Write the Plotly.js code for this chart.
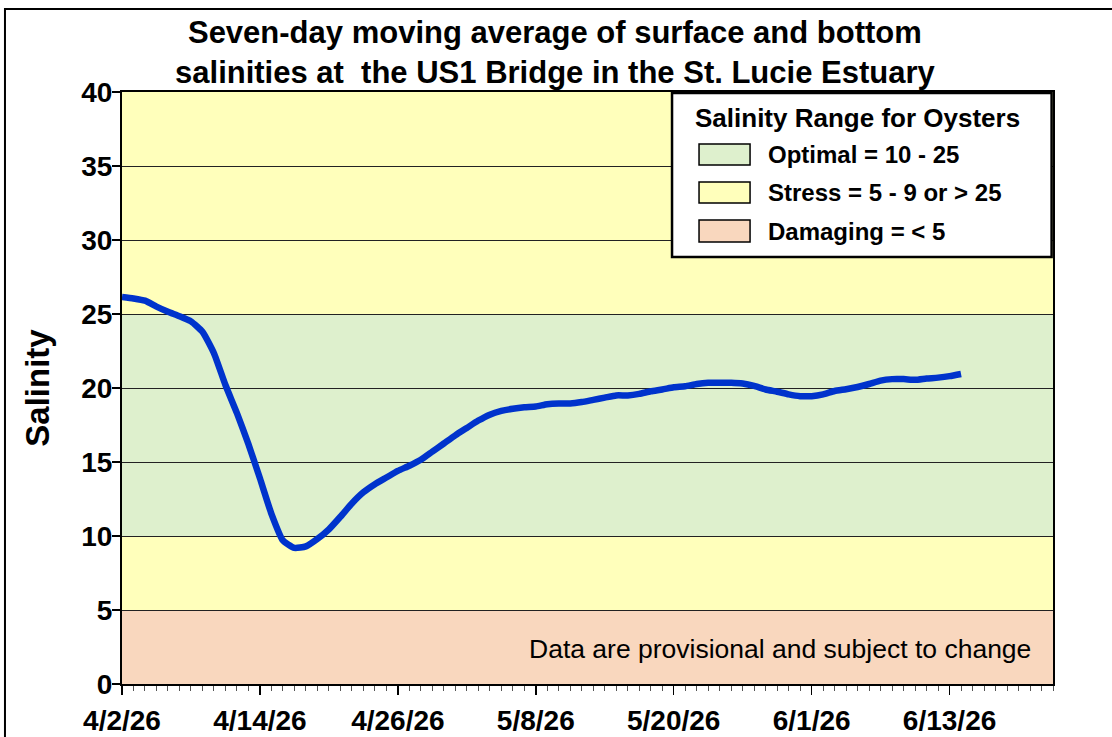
<!DOCTYPE html>
<html>
<head>
<meta charset="utf-8">
<script src="https://cdn.plot.ly/plotly-3.0.1.min.js"></script>
<style>
  html, body { margin: 0; padding: 0; background: #ffffff; }
  #chart { width: 1112px; height: 737px; }
</style>
</head>
<body>
<div id="chart"></div>
<script>
// ---- Data ----
var startDate = '2026-04-02';
var salinity = [
  26.15, 26.05, 25.9, 25.5, 25.15, 24.85, 24.5, 23.8, 22.35, 20.2,
  18.3, 16.2, 13.9, 11.5, 9.7, 9.2, 9.3, 9.8, 10.45, 11.3,
  12.2, 12.95, 13.5, 13.95, 14.4, 14.75, 15.15, 15.7, 16.25, 16.8,
  17.3, 17.8, 18.2, 18.45, 18.6, 18.7, 18.75, 18.9, 18.95, 18.95,
  19.05, 19.2, 19.35, 19.5, 19.5, 19.6, 19.78, 19.9, 20.05, 20.12,
  20.27, 20.35, 20.35, 20.35, 20.3, 20.14, 19.9, 19.75, 19.57, 19.45,
  19.45, 19.57, 19.8, 19.92, 20.07, 20.27, 20.5, 20.6, 20.6, 20.55,
  20.64, 20.7, 20.8, 20.95
];
var xRange = ['2026-04-02', '2026-06-22'];
var yRange = [0, 40];
var yTicks = [0, 5, 10, 15, 20, 25, 30, 35, 40];

// salinity bands for oysters
var bandNames  = ['Damaging = < 5', 'Stress = 5 - 9 or > 25', 'Optimal = 10 - 25', 'Stress = 5 - 9 or > 25'];
var bandLow    = [0, 5, 10, 25];
var bandHigh   = [5, 10, 25, 40];
var bandColors = ['#F9D7BE', '#FFFFBB', '#DEF0CD', '#FFFFBB'];

var legendLabels = ['Optimal = 10 - 25', 'Stress = 5 - 9 or > 25', 'Damaging = < 5'];
var legendColors = ['#DEF0CD', '#FFFFBB', '#F9D7BE'];

var titleText = 'Seven-day moving average of surface and bottom<br>salinities at  the US1 Bridge in the St. Lucie Estuary';
var yTitle = 'Salinity';
var legendTitle = 'Salinity Range for Oysters';
var noteText = 'Data are provisional and subject to change';

// ---- Build ----
function addDays(s, n) {
  var d = new Date(s + 'T00:00:00Z');
  d.setUTCDate(d.getUTCDate() + n);
  return d.toISOString().slice(0, 10);
}
var dates = salinity.map(function (v, i) { return addDays(startDate, i); });

var FONT = 'Liberation Sans, Arial, Helvetica, sans-serif';

var shapes = [];
for (var i = 0; i < bandLow.length; i++) {
  shapes.push({
    type: 'rect', xref: 'paper', yref: 'y', x0: 0, x1: 1,
    y0: bandLow[i], y1: bandHigh[i],
    fillcolor: bandColors[i], line: { width: 0 }, layer: 'below'
  });
}
// outer frame (top + left visible)
shapes.push({
  type: 'rect', xref: 'paper', yref: 'paper',
  x0: -0.1257, x1: 1.2, y0: -0.2, y1: 1.1402,
  line: { color: '#000', width: 2 }, fillcolor: 'rgba(0,0,0,0)', layer: 'above'
});
// legend box
shapes.push({
  type: 'rect', xref: 'paper', yref: 'paper',
  x0: 0.5908, x1: 0.9985, y0: 0.7213, y1: 0.9983,
  line: { color: '#000', width: 2.5 }, fillcolor: '#ffffff', layer: 'above'
});
var swY = [[0.8767, 0.9122], [0.8125, 0.848], [0.7466, 0.7838]];
var txY = [0.8944, 0.8302, 0.7652];
var annotations = [{
  xref: 'paper', yref: 'paper', x: 0.7905, y: 0.9561,
  xanchor: 'center', yanchor: 'middle', showarrow: false,
  text: '<b>' + legendTitle + '</b>',
  font: { family: FONT, size: 26, color: '#000' }
}];
for (var j = 0; j < legendLabels.length; j++) {
  shapes.push({
    type: 'rect', xref: 'paper', yref: 'paper',
    x0: 0.6198, x1: 0.6746, y0: swY[j][0], y1: swY[j][1],
    line: { color: '#000', width: 1.5 }, fillcolor: legendColors[j], layer: 'above'
  });
  annotations.push({
    xref: 'paper', yref: 'paper', x: 0.6917, y: txY[j],
    xanchor: 'left', yanchor: 'middle', showarrow: false,
    text: '<b>' + legendLabels[j] + '</b>',
    font: { family: FONT, size: 24, color: '#000' }
  });
}
annotations.push({
  xref: 'paper', yref: 'paper', x: 0.9785, y: 0.0595,
  xanchor: 'right', yanchor: 'middle', showarrow: false,
  text: noteText,
  font: { family: FONT, size: 26.5, color: '#000' }
});

var trace = {
  x: dates, y: salinity, type: 'scatter', mode: 'lines',
  line: { color: '#0033CC', width: 6.5, shape: 'spline', smoothing: 0.5 },
  hoverinfo: 'skip', showlegend: false
};

var layout = {
  width: 1112, height: 737,
  margin: { l: 122, r: 59, t: 92, b: 53 },
  paper_bgcolor: '#ffffff', plot_bgcolor: '#ffffff',
  showlegend: false,
  title: {
    text: '<b>' + titleText + '</b>',
    font: { family: FONT, size: 31, color: '#000' },
    x: 0.499, xanchor: 'center', y: 0.942, yanchor: 'middle'
  },
  xaxis: {
    type: 'date', range: xRange, autorange: false,
    tick0: '2026-04-02', dtick: 12 * 86400000,
    tickformat: '%-m/%-d/%y',
    ticks: 'outside', ticklen: 9, tickwidth: 1.5, tickcolor: '#000',
    minor: { dtick: 86400000, tick0: '2026-04-02', ticks: 'outside', ticklen: 5, tickwidth: 1, tickcolor: '#555', showgrid: false },
    showgrid: false, zeroline: false,
    showline: true, linecolor: '#000', linewidth: 2, mirror: true,
    tickfont: { family: FONT, size: 28, color: '#000', weight: 'bold' },
    ticklabelstandoff: 1
  },
  yaxis: {
    range: yRange, autorange: false,
    tickvals: yTicks,
    ticks: 'outside', ticklen: 8, tickwidth: 1.5, tickcolor: '#000',
    showgrid: true, gridcolor: '#222', gridwidth: 1,
    zeroline: false,
    showline: true, linecolor: '#000', linewidth: 2, mirror: true,
    tickfont: { family: FONT, size: 28, color: '#000', weight: 'bold' },
    ticklabelstandoff: -6,
    title: { text: '<b>' + yTitle + '</b>', font: { family: FONT, size: 33, color: '#000' }, standoff: 22 }
  },
  shapes: shapes,
  annotations: annotations
};

Plotly.newPlot('chart', [trace], layout, { displayModeBar: false, staticPlot: true });
</script>
</body>
</html>
